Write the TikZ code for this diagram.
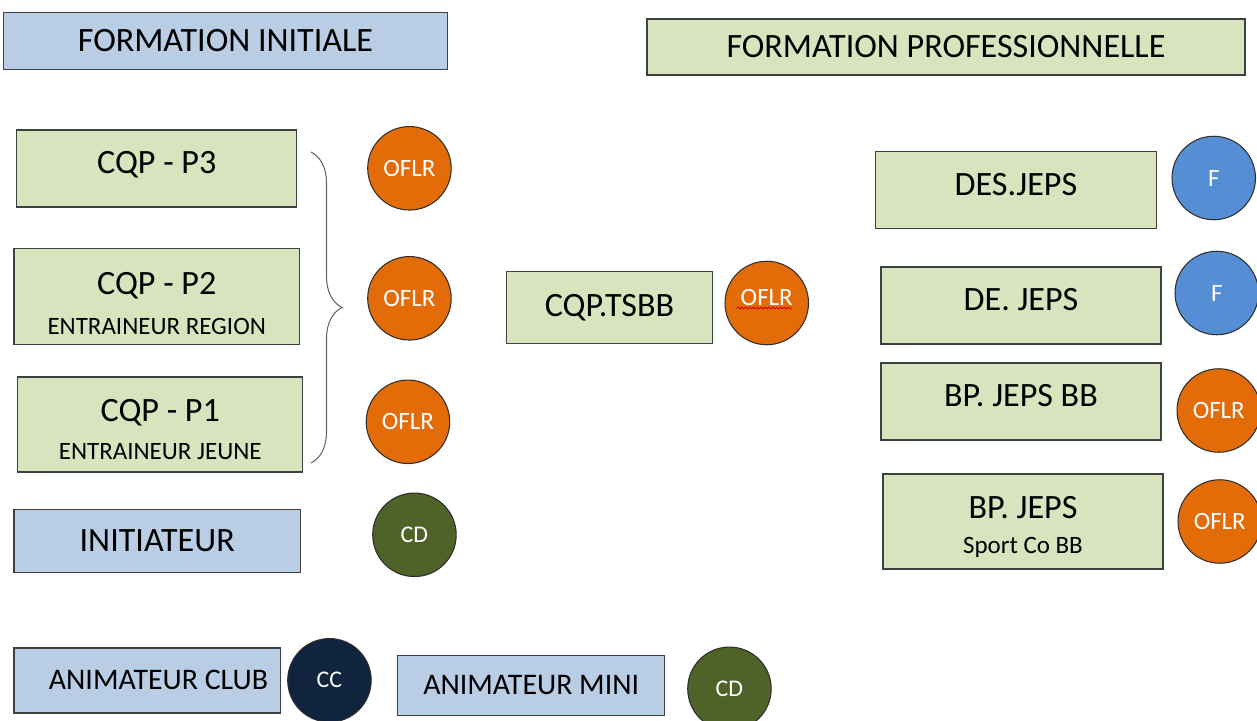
\documentclass[tikz,border=0pt]{standalone}
\usepackage{fontspec}
\setmainfont{Carlito}
\usepackage{tikz}
\usetikzlibrary{positioning,decorations.pathreplacing,decorations.pathmorphing}

\definecolor{boxblue}{HTML}{B9CDE5}
\definecolor{boxgreen}{HTML}{D7E4BD}
\definecolor{boxline}{HTML}{404040}
\definecolor{ringline}{HTML}{2E2E2E}
\definecolor{oflrorange}{HTML}{E36C09}
\definecolor{fblue}{HTML}{558ED5}
\definecolor{cdgreen}{HTML}{4F6228}
\definecolor{ccnavy}{HTML}{10243E}

\begin{document}
\begin{tikzpicture}[node distance=1cm,auto]
    \tikzset{
      bluenode/.style={rectangle,draw=boxline,fill=boxblue,line width=0.8pt,inner sep=0pt,outer sep=0pt,align=center,font=\fontsize{19.4}{23}\selectfont},
      greennode/.style={rectangle,draw=boxline,fill=boxgreen,line width=0.8pt,inner sep=0pt,outer sep=0pt,minimum width=5.6cm,minimum height=1.54cm,align=center,font=\fontsize{19.4}{23}\selectfont},
      raisedtext/.style={text height=13pt,text depth=7.3pt},
      circlenode/.style={circle,draw=ringline,line width=0.6pt,inner sep=0em,outer sep=0pt,minimum size=1.67cm,text=white,font=\fontsize{14.2}{17}\selectfont},
      oflrnode/.style={circlenode,fill=oflrorange},
      fnode/.style={circlenode,fill=fblue},
      cdnode/.style={circlenode,fill=cdgreen,font=\fontsize{13.6}{16}\selectfont},
      ccnode/.style={circlenode,fill=ccnavy,font=\fontsize{13.6}{16}\selectfont},
      bracestyle/.style={decorate,decoration={brace,amplitude=0.62cm},draw=boxline!80,line width=0.6pt},
      squiggle/.style={decorate,decoration={snake,segment length=2.2pt,amplitude=0.5pt},draw=red!85!black,line width=0.5pt}
    }
    \useasboundingbox (0,0) rectangle (25.14,-14.4);

    % formation initiale
    \node[bluenode,minimum width=8.88cm,minimum height=1.14cm](initiale) at (4.51,-0.82){FORMATION INITIALE};
    \node[greennode,raisedtext](p3) at (3.134,-3.366){CQP - P3};
    \node[greennode,minimum width=5.7cm,minimum height=1.92cm,below=0.83cm of p3](p2){\rule{0pt}{20.8pt}CQP - P2\\{\fontsize{14.2}{23}\selectfont ENTRAINEUR REGION}};
    \node[greennode,minimum width=5.7cm,minimum height=1.9cm,font=\fontsize{19.4}{22}\selectfont,below=0.65cm of p2,xshift=0.07cm](p1){\rule{0pt}{18.5pt}CQP - P1\\{\fontsize{14.2}{22}\selectfont ENTRAINEUR JEUNE}};
    \node[bluenode,minimum width=5.72cm,minimum height=1.26cm,below=0.75cm of p1,xshift=-0.06cm](initiateur){INITIATEUR};
    \node[bluenode,minimum width=5.32cm,minimum height=1.3cm,font=\fontsize{17}{20}\selectfont,below=1.51cm of initiateur.south west,anchor=north west](animclub){\hspace*{0.45cm}ANIMATEUR CLUB};

    \node[oflrnode,right=1.42cm of p3](oflrp3){OFLR};
    \node[oflrnode,right=1.37cm of p2,yshift=-0.04cm](oflrp2){OFLR};
    \node[oflrnode,right=1.27cm of p1,yshift=0.05cm](oflrp1){OFLR};
    \node[cdnode,right=1.45cm of initiateur,yshift=0.12cm](cdinit){CD};
    \node[ccnode,right=0.15cm of animclub](ccclub){CC};
    \node[bluenode,minimum width=5.34cm,minimum height=1.2cm,font=\fontsize{17}{20}\selectfont,right=0.53cm of ccclub,yshift=-0.1cm](animmini){ANIMATEUR MINI};
    \node[cdnode,right=0.46cm of animmini,yshift=-0.07cm](cdmini){CD};

    \coordinate (bracetop) at (6.22,-3.04);
    \coordinate (bracebot) at (6.22,-9.26);
    \draw[bracestyle](bracetop) -- (bracebot);

    % CQP TSBB
    \node[greennode,minimum width=4.12cm,minimum height=1.44cm](tsbb) at (12.19,-6.15){CQP.TSBB};
    \node[oflrnode,right=0.25cm of tsbb,yshift=0.09cm](oflrtsbb){\raisebox{0.24cm}{OFLR}};
    \draw[squiggle]([xshift=-0.6cm,yshift=-0.1cm]oflrtsbb.center) -- ([xshift=0.5cm,yshift=-0.1cm]oflrtsbb.center);

    % formation professionnelle
    \node[greennode,minimum width=11.96cm,minimum height=1.12cm](professionnelle) at (18.92,-0.94){FORMATION PROFESSIONNELLE};
    \node[greennode,raisedtext,minimum width=5.62cm](desjeps) at (20.32,-3.8){DES.JEPS};
    \node[greennode,raisedtext,below=0.77cm of desjeps,xshift=0.1cm](dejeps){DE. JEPS};
    \node[greennode,raisedtext,below=0.38cm of dejeps](bpjepsbb){BP. JEPS BB};
    \node[greennode,minimum height=1.9cm,font=\fontsize{19.4}{20}\selectfont,below=0.68cm of bpjepsbb,xshift=0.04cm](bpjepssport){\rule{0pt}{19pt}BP. JEPS\\{\fontsize{14.2}{20}\selectfont Sport Co BB}};

    \node[fnode,right=0.31cm of desjeps,yshift=0.24cm](fdes){F};
    \node[fnode,right=0.28cm of dejeps,yshift=0.25cm](fde){F};
    \node[oflrnode,right=0.32cm of bpjepsbb,yshift=-0.18cm](oflrbb){OFLR};
    \node[oflrnode,right=0.3cm of bpjepssport](oflrsport){OFLR};
  \end{tikzpicture}
\end{document}
